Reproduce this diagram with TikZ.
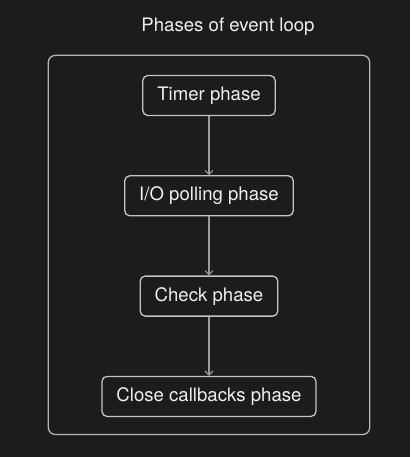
\documentclass[tikz,border=0pt]{standalone}
\usepackage{fontspec}
\setmainfont{TeX Gyre Heros}
\usetikzlibrary{%
  fit,%
  arrows.meta,%
  positioning% wg. " of "
}
\definecolor{bgcol}{HTML}{1C1C1C}
\definecolor{boxcol}{HTML}{C4C4C4}
\definecolor{framecol}{HTML}{B4B4B4}
\definecolor{linecol}{HTML}{9A9A9A}
\definecolor{textcol}{HTML}{EEEEEE}

\begin{document}
\begin{tikzpicture}[x=1pt,y=1pt,node distance=59pt,
    >={Straight Barb[length=4pt,width=8pt]},
    every node/.style={text=textcol,font=\fontsize{18.6}{23}\selectfont},
    phase/.style={draw=boxcol,line width=1.3pt,rounded corners=5pt,minimum height=40pt,inner xsep=14.5pt},
    frame/.style={draw=framecol,line width=1.3pt,rounded corners=7pt,inner xsep=53pt,inner ysep=18.5pt}]
    \fill[bgcol] (0,0) rectangle (410,-457);
    \useasboundingbox (0,0) rectangle (410,-457);
    %title
    \node[anchor=base] (heading) at (228,-32) {Phases of event loop};
    %phases
    \node[phase] (timer) at (209,-95.5) {Timer phase};
    \node[phase] (io) [below=of timer] {I/O polling phase};
    \node[phase] (check) [below=of io] {Check phase};
    \node[phase] (close) [below=of check] {Close callbacks phase};
    %loop frame
    \node[frame, fit=(timer)(io)(check)(close), yshift=1pt] (loop) {};
    \path[->,draw=linecol,line width=1.1pt]
    (timer) edge (io)
    (io) edge (check)
    (check) edge (close);
\end{tikzpicture}
\end{document}
